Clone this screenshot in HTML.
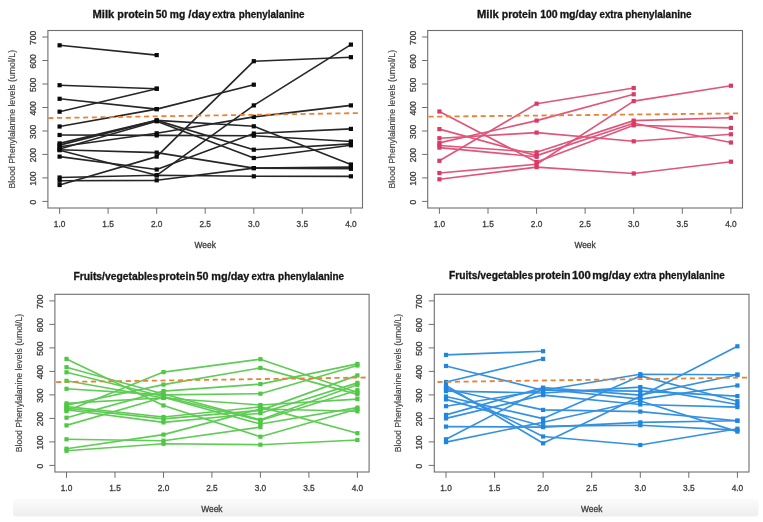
<!DOCTYPE html><html><head><meta charset="utf-8"><style>html,body{margin:0;padding:0;background:#fff;}svg{display:block;filter:blur(0.3px);}text{font-family:"Liberation Sans",sans-serif;} .lb{stroke:#3c3c3c;stroke-width:0.3px;}</style></head><body>
<svg width="763" height="522" viewBox="0 0 763 522">
<defs><linearGradient id="bg" x1="0" y1="0" x2="0" y2="1"><stop offset="0" stop-color="#fbfbfb"/><stop offset="1" stop-color="#eeeeee"/></linearGradient></defs>
<rect x="0" y="0" width="763" height="522" fill="#fff"/>
<rect x="13" y="498.8" width="745.5" height="17.6" rx="3" fill="url(#bg)"/>
<rect x="47.9" y="30.5" width="314.6" height="177.5" fill="none" stroke="#6e6e6e" stroke-width="1.1"/>
<line x1="42.3" y1="201.4" x2="47.9" y2="201.4" stroke="#6e6e6e" stroke-width="1"/>
<text x="0" y="0" transform="translate(35.8,202.2) rotate(-90)" text-anchor="middle" font-size="8.5" fill="#3c3c3c" class="lb">0</text>
<line x1="42.3" y1="177.9" x2="47.9" y2="177.9" stroke="#6e6e6e" stroke-width="1"/>
<text x="0" y="0" transform="translate(35.8,178.7) rotate(-90)" text-anchor="middle" font-size="8.5" fill="#3c3c3c" class="lb">100</text>
<line x1="42.3" y1="154.4" x2="47.9" y2="154.4" stroke="#6e6e6e" stroke-width="1"/>
<text x="0" y="0" transform="translate(35.8,155.2) rotate(-90)" text-anchor="middle" font-size="8.5" fill="#3c3c3c" class="lb">200</text>
<line x1="42.3" y1="131.0" x2="47.9" y2="131.0" stroke="#6e6e6e" stroke-width="1"/>
<text x="0" y="0" transform="translate(35.8,131.8) rotate(-90)" text-anchor="middle" font-size="8.5" fill="#3c3c3c" class="lb">300</text>
<line x1="42.3" y1="107.5" x2="47.9" y2="107.5" stroke="#6e6e6e" stroke-width="1"/>
<text x="0" y="0" transform="translate(35.8,108.3) rotate(-90)" text-anchor="middle" font-size="8.5" fill="#3c3c3c" class="lb">400</text>
<line x1="42.3" y1="84.0" x2="47.9" y2="84.0" stroke="#6e6e6e" stroke-width="1"/>
<text x="0" y="0" transform="translate(35.8,84.8) rotate(-90)" text-anchor="middle" font-size="8.5" fill="#3c3c3c" class="lb">500</text>
<line x1="42.3" y1="60.5" x2="47.9" y2="60.5" stroke="#6e6e6e" stroke-width="1"/>
<text x="0" y="0" transform="translate(35.8,61.3) rotate(-90)" text-anchor="middle" font-size="8.5" fill="#3c3c3c" class="lb">600</text>
<line x1="42.3" y1="37.0" x2="47.9" y2="37.0" stroke="#6e6e6e" stroke-width="1"/>
<text x="0" y="0" transform="translate(35.8,37.8) rotate(-90)" text-anchor="middle" font-size="8.5" fill="#3c3c3c" class="lb">700</text>
<line x1="59.6" y1="208.0" x2="59.6" y2="213.8" stroke="#6e6e6e" stroke-width="1"/>
<text x="59.6" y="227.4" text-anchor="middle" font-size="8.3" fill="#3c3c3c" class="lb">1.0</text>
<line x1="108.1" y1="208.0" x2="108.1" y2="213.8" stroke="#6e6e6e" stroke-width="1"/>
<text x="108.1" y="227.4" text-anchor="middle" font-size="8.3" fill="#3c3c3c" class="lb">1.5</text>
<line x1="156.7" y1="208.0" x2="156.7" y2="213.8" stroke="#6e6e6e" stroke-width="1"/>
<text x="156.7" y="227.4" text-anchor="middle" font-size="8.3" fill="#3c3c3c" class="lb">2.0</text>
<line x1="205.2" y1="208.0" x2="205.2" y2="213.8" stroke="#6e6e6e" stroke-width="1"/>
<text x="205.2" y="227.4" text-anchor="middle" font-size="8.3" fill="#3c3c3c" class="lb">2.5</text>
<line x1="253.8" y1="208.0" x2="253.8" y2="213.8" stroke="#6e6e6e" stroke-width="1"/>
<text x="253.8" y="227.4" text-anchor="middle" font-size="8.3" fill="#3c3c3c" class="lb">3.0</text>
<line x1="302.3" y1="208.0" x2="302.3" y2="213.8" stroke="#6e6e6e" stroke-width="1"/>
<text x="302.3" y="227.4" text-anchor="middle" font-size="8.3" fill="#3c3c3c" class="lb">3.5</text>
<line x1="350.9" y1="208.0" x2="350.9" y2="213.8" stroke="#6e6e6e" stroke-width="1"/>
<text x="350.9" y="227.4" text-anchor="middle" font-size="8.3" fill="#3c3c3c" class="lb">4.0</text>
<text x="205.2" y="248.4" text-anchor="middle" font-size="8.4" fill="#3c3c3c" class="lb">Week</text>
<text x="0" y="0" transform="translate(14.9,119.2) rotate(-90)" text-anchor="middle" font-size="8.7" fill="#404040" stroke="#404040" stroke-width="0.15" textLength="138.5" lengthAdjust="spacingAndGlyphs">Blood Phenylalanine levels (umol/L)</text>
<text x="92.53" y="17.9" font-size="10.2" font-weight="bold" fill="#151515" stroke="#151515" stroke-width="0.3" textLength="21.73" lengthAdjust="spacingAndGlyphs">Milk</text>
<text x="117.35" y="17.9" font-size="10.2" font-weight="bold" fill="#151515" stroke="#151515" stroke-width="0.3" textLength="36.61" lengthAdjust="spacingAndGlyphs">protein</text>
<text x="155.69" y="17.9" font-size="10.2" font-weight="bold" fill="#151515" stroke="#151515" stroke-width="0.3" textLength="11.48" lengthAdjust="spacingAndGlyphs">50</text>
<text x="169.78" y="17.9" font-size="10.2" font-weight="bold" fill="#151515" stroke="#151515" stroke-width="0.3" textLength="15.44" lengthAdjust="spacingAndGlyphs">mg</text>
<text x="188.30" y="17.9" font-size="10.2" font-weight="bold" fill="#151515" stroke="#151515" stroke-width="0.3" textLength="22.46" lengthAdjust="spacingAndGlyphs">/day</text>
<text x="212.31" y="17.9" font-size="10.2" font-weight="bold" fill="#151515" stroke="#151515" stroke-width="0.3" textLength="22.85" lengthAdjust="spacingAndGlyphs">extra</text>
<text x="238.81" y="17.9" font-size="10.2" font-weight="bold" fill="#151515" stroke="#151515" stroke-width="0.3" textLength="65.75" lengthAdjust="spacingAndGlyphs">phenylalanine</text>
<polyline points="59.6,45.3 156.7,55.1" fill="none" stroke="#262626" stroke-width="1.65" stroke-linejoin="round"/>
<polyline points="59.6,85.2 156.7,88.7" fill="none" stroke="#262626" stroke-width="1.65" stroke-linejoin="round"/>
<polyline points="59.6,98.8 156.7,109.1 253.8,84.7" fill="none" stroke="#262626" stroke-width="1.65" stroke-linejoin="round"/>
<polyline points="59.6,111.7 156.7,88.7" fill="none" stroke="#262626" stroke-width="1.65" stroke-linejoin="round"/>
<polyline points="59.6,126.5 156.7,109.1" fill="none" stroke="#262626" stroke-width="1.65" stroke-linejoin="round"/>
<polyline points="59.6,135.0 156.7,135.4 253.8,135.7 350.9,141.5" fill="none" stroke="#262626" stroke-width="1.65" stroke-linejoin="round"/>
<polyline points="59.6,143.4 156.7,120.4 253.8,126.3 350.9,164.5" fill="none" stroke="#262626" stroke-width="1.65" stroke-linejoin="round"/>
<polyline points="59.6,145.1 156.7,120.4 253.8,149.7 350.9,143.9" fill="none" stroke="#262626" stroke-width="1.65" stroke-linejoin="round"/>
<polyline points="59.6,146.7 156.7,133.3 253.8,116.9 350.9,105.4" fill="none" stroke="#262626" stroke-width="1.65" stroke-linejoin="round"/>
<polyline points="59.6,149.0 156.7,121.3 253.8,158.0 350.9,145.3" fill="none" stroke="#262626" stroke-width="1.65" stroke-linejoin="round"/>
<polyline points="59.6,149.7 156.7,152.6 253.8,168.1 350.9,167.1" fill="none" stroke="#262626" stroke-width="1.65" stroke-linejoin="round"/>
<polyline points="59.6,150.2 156.7,175.3 253.8,105.4 350.9,44.6" fill="none" stroke="#262626" stroke-width="1.65" stroke-linejoin="round"/>
<polyline points="59.6,156.6 156.7,169.5 253.8,133.5 350.9,128.9" fill="none" stroke="#262626" stroke-width="1.65" stroke-linejoin="round"/>
<polyline points="59.6,177.5 156.7,175.3 253.8,176.3 350.9,176.3" fill="none" stroke="#262626" stroke-width="1.65" stroke-linejoin="round"/>
<polyline points="59.6,180.7 156.7,180.3 253.8,168.1 350.9,168.8" fill="none" stroke="#262626" stroke-width="1.65" stroke-linejoin="round"/>
<polyline points="59.6,185.0 156.7,156.6 253.8,61.2 350.9,57.2" fill="none" stroke="#262626" stroke-width="1.65" stroke-linejoin="round"/>
<rect x="57.5" y="43.2" width="4.2" height="4.2" fill="#0a0a0a"/>
<rect x="154.6" y="53.0" width="4.2" height="4.2" fill="#0a0a0a"/>
<rect x="57.5" y="83.1" width="4.2" height="4.2" fill="#0a0a0a"/>
<rect x="154.6" y="86.6" width="4.2" height="4.2" fill="#0a0a0a"/>
<rect x="57.5" y="96.7" width="4.2" height="4.2" fill="#0a0a0a"/>
<rect x="154.6" y="107.0" width="4.2" height="4.2" fill="#0a0a0a"/>
<rect x="251.7" y="82.6" width="4.2" height="4.2" fill="#0a0a0a"/>
<rect x="57.5" y="109.6" width="4.2" height="4.2" fill="#0a0a0a"/>
<rect x="154.6" y="86.6" width="4.2" height="4.2" fill="#0a0a0a"/>
<rect x="57.5" y="124.4" width="4.2" height="4.2" fill="#0a0a0a"/>
<rect x="154.6" y="107.0" width="4.2" height="4.2" fill="#0a0a0a"/>
<rect x="57.5" y="132.9" width="4.2" height="4.2" fill="#0a0a0a"/>
<rect x="154.6" y="133.3" width="4.2" height="4.2" fill="#0a0a0a"/>
<rect x="251.7" y="133.6" width="4.2" height="4.2" fill="#0a0a0a"/>
<rect x="348.8" y="139.4" width="4.2" height="4.2" fill="#0a0a0a"/>
<rect x="57.5" y="141.3" width="4.2" height="4.2" fill="#0a0a0a"/>
<rect x="154.6" y="118.3" width="4.2" height="4.2" fill="#0a0a0a"/>
<rect x="251.7" y="124.2" width="4.2" height="4.2" fill="#0a0a0a"/>
<rect x="348.8" y="162.4" width="4.2" height="4.2" fill="#0a0a0a"/>
<rect x="57.5" y="143.0" width="4.2" height="4.2" fill="#0a0a0a"/>
<rect x="154.6" y="118.3" width="4.2" height="4.2" fill="#0a0a0a"/>
<rect x="251.7" y="147.6" width="4.2" height="4.2" fill="#0a0a0a"/>
<rect x="348.8" y="141.8" width="4.2" height="4.2" fill="#0a0a0a"/>
<rect x="57.5" y="144.6" width="4.2" height="4.2" fill="#0a0a0a"/>
<rect x="154.6" y="131.2" width="4.2" height="4.2" fill="#0a0a0a"/>
<rect x="251.7" y="114.8" width="4.2" height="4.2" fill="#0a0a0a"/>
<rect x="348.8" y="103.3" width="4.2" height="4.2" fill="#0a0a0a"/>
<rect x="57.5" y="146.9" width="4.2" height="4.2" fill="#0a0a0a"/>
<rect x="154.6" y="119.2" width="4.2" height="4.2" fill="#0a0a0a"/>
<rect x="251.7" y="155.9" width="4.2" height="4.2" fill="#0a0a0a"/>
<rect x="348.8" y="143.2" width="4.2" height="4.2" fill="#0a0a0a"/>
<rect x="57.5" y="147.6" width="4.2" height="4.2" fill="#0a0a0a"/>
<rect x="154.6" y="150.5" width="4.2" height="4.2" fill="#0a0a0a"/>
<rect x="251.7" y="166.0" width="4.2" height="4.2" fill="#0a0a0a"/>
<rect x="348.8" y="165.0" width="4.2" height="4.2" fill="#0a0a0a"/>
<rect x="57.5" y="148.1" width="4.2" height="4.2" fill="#0a0a0a"/>
<rect x="154.6" y="173.2" width="4.2" height="4.2" fill="#0a0a0a"/>
<rect x="251.7" y="103.3" width="4.2" height="4.2" fill="#0a0a0a"/>
<rect x="348.8" y="42.5" width="4.2" height="4.2" fill="#0a0a0a"/>
<rect x="57.5" y="154.5" width="4.2" height="4.2" fill="#0a0a0a"/>
<rect x="154.6" y="167.4" width="4.2" height="4.2" fill="#0a0a0a"/>
<rect x="251.7" y="131.4" width="4.2" height="4.2" fill="#0a0a0a"/>
<rect x="348.8" y="126.8" width="4.2" height="4.2" fill="#0a0a0a"/>
<rect x="57.5" y="175.4" width="4.2" height="4.2" fill="#0a0a0a"/>
<rect x="154.6" y="173.2" width="4.2" height="4.2" fill="#0a0a0a"/>
<rect x="251.7" y="174.2" width="4.2" height="4.2" fill="#0a0a0a"/>
<rect x="348.8" y="174.2" width="4.2" height="4.2" fill="#0a0a0a"/>
<rect x="57.5" y="178.6" width="4.2" height="4.2" fill="#0a0a0a"/>
<rect x="154.6" y="178.2" width="4.2" height="4.2" fill="#0a0a0a"/>
<rect x="251.7" y="166.0" width="4.2" height="4.2" fill="#0a0a0a"/>
<rect x="348.8" y="166.7" width="4.2" height="4.2" fill="#0a0a0a"/>
<rect x="57.5" y="182.9" width="4.2" height="4.2" fill="#0a0a0a"/>
<rect x="154.6" y="154.5" width="4.2" height="4.2" fill="#0a0a0a"/>
<rect x="251.7" y="59.1" width="4.2" height="4.2" fill="#0a0a0a"/>
<rect x="348.8" y="55.1" width="4.2" height="4.2" fill="#0a0a0a"/>
<line x1="48.3" y1="118.1" x2="357.9" y2="113.1" stroke="#e8823a" stroke-width="1.8" stroke-dasharray="5.1,3.6"/>
<rect x="427.7" y="30.5" width="314.8" height="177.5" fill="none" stroke="#6e6e6e" stroke-width="1.1"/>
<line x1="422.1" y1="201.4" x2="427.7" y2="201.4" stroke="#6e6e6e" stroke-width="1"/>
<text x="0" y="0" transform="translate(415.6,202.2) rotate(-90)" text-anchor="middle" font-size="8.5" fill="#3c3c3c" class="lb">0</text>
<line x1="422.1" y1="177.9" x2="427.7" y2="177.9" stroke="#6e6e6e" stroke-width="1"/>
<text x="0" y="0" transform="translate(415.6,178.7) rotate(-90)" text-anchor="middle" font-size="8.5" fill="#3c3c3c" class="lb">100</text>
<line x1="422.1" y1="154.4" x2="427.7" y2="154.4" stroke="#6e6e6e" stroke-width="1"/>
<text x="0" y="0" transform="translate(415.6,155.2) rotate(-90)" text-anchor="middle" font-size="8.5" fill="#3c3c3c" class="lb">200</text>
<line x1="422.1" y1="131.0" x2="427.7" y2="131.0" stroke="#6e6e6e" stroke-width="1"/>
<text x="0" y="0" transform="translate(415.6,131.8) rotate(-90)" text-anchor="middle" font-size="8.5" fill="#3c3c3c" class="lb">300</text>
<line x1="422.1" y1="107.5" x2="427.7" y2="107.5" stroke="#6e6e6e" stroke-width="1"/>
<text x="0" y="0" transform="translate(415.6,108.3) rotate(-90)" text-anchor="middle" font-size="8.5" fill="#3c3c3c" class="lb">400</text>
<line x1="422.1" y1="84.0" x2="427.7" y2="84.0" stroke="#6e6e6e" stroke-width="1"/>
<text x="0" y="0" transform="translate(415.6,84.8) rotate(-90)" text-anchor="middle" font-size="8.5" fill="#3c3c3c" class="lb">500</text>
<line x1="422.1" y1="60.5" x2="427.7" y2="60.5" stroke="#6e6e6e" stroke-width="1"/>
<text x="0" y="0" transform="translate(415.6,61.3) rotate(-90)" text-anchor="middle" font-size="8.5" fill="#3c3c3c" class="lb">600</text>
<line x1="422.1" y1="37.0" x2="427.7" y2="37.0" stroke="#6e6e6e" stroke-width="1"/>
<text x="0" y="0" transform="translate(415.6,37.8) rotate(-90)" text-anchor="middle" font-size="8.5" fill="#3c3c3c" class="lb">700</text>
<line x1="439.4" y1="208.0" x2="439.4" y2="213.8" stroke="#6e6e6e" stroke-width="1"/>
<text x="439.4" y="227.4" text-anchor="middle" font-size="8.3" fill="#3c3c3c" class="lb">1.0</text>
<line x1="488.0" y1="208.0" x2="488.0" y2="213.8" stroke="#6e6e6e" stroke-width="1"/>
<text x="488.0" y="227.4" text-anchor="middle" font-size="8.3" fill="#3c3c3c" class="lb">1.5</text>
<line x1="536.6" y1="208.0" x2="536.6" y2="213.8" stroke="#6e6e6e" stroke-width="1"/>
<text x="536.6" y="227.4" text-anchor="middle" font-size="8.3" fill="#3c3c3c" class="lb">2.0</text>
<line x1="585.1" y1="208.0" x2="585.1" y2="213.8" stroke="#6e6e6e" stroke-width="1"/>
<text x="585.1" y="227.4" text-anchor="middle" font-size="8.3" fill="#3c3c3c" class="lb">2.5</text>
<line x1="633.7" y1="208.0" x2="633.7" y2="213.8" stroke="#6e6e6e" stroke-width="1"/>
<text x="633.7" y="227.4" text-anchor="middle" font-size="8.3" fill="#3c3c3c" class="lb">3.0</text>
<line x1="682.3" y1="208.0" x2="682.3" y2="213.8" stroke="#6e6e6e" stroke-width="1"/>
<text x="682.3" y="227.4" text-anchor="middle" font-size="8.3" fill="#3c3c3c" class="lb">3.5</text>
<line x1="730.9" y1="208.0" x2="730.9" y2="213.8" stroke="#6e6e6e" stroke-width="1"/>
<text x="730.9" y="227.4" text-anchor="middle" font-size="8.3" fill="#3c3c3c" class="lb">4.0</text>
<text x="585.1" y="248.4" text-anchor="middle" font-size="8.4" fill="#3c3c3c" class="lb">Week</text>
<text x="0" y="0" transform="translate(394.7,119.2) rotate(-90)" text-anchor="middle" font-size="8.7" fill="#404040" stroke="#404040" stroke-width="0.15" textLength="138.5" lengthAdjust="spacingAndGlyphs">Blood Phenylalanine levels (umol/L)</text>
<text x="477.03" y="18.2" font-size="10.2" font-weight="bold" fill="#151515" stroke="#151515" stroke-width="0.3" textLength="21.83" lengthAdjust="spacingAndGlyphs">Milk</text>
<text x="501.77" y="18.2" font-size="10.2" font-weight="bold" fill="#151515" stroke="#151515" stroke-width="0.3" textLength="35.46" lengthAdjust="spacingAndGlyphs">protein</text>
<text x="540.17" y="18.2" font-size="10.2" font-weight="bold" fill="#151515" stroke="#151515" stroke-width="0.3" textLength="17.51" lengthAdjust="spacingAndGlyphs">100</text>
<text x="559.66" y="18.2" font-size="10.2" font-weight="bold" fill="#151515" stroke="#151515" stroke-width="0.3" textLength="37.20" lengthAdjust="spacingAndGlyphs">mg/day</text>
<text x="599.51" y="18.2" font-size="10.2" font-weight="bold" fill="#151515" stroke="#151515" stroke-width="0.3" textLength="23.16" lengthAdjust="spacingAndGlyphs">extra</text>
<text x="625.20" y="18.2" font-size="10.2" font-weight="bold" fill="#151515" stroke="#151515" stroke-width="0.3" textLength="66.46" lengthAdjust="spacingAndGlyphs">phenylalanine</text>
<polyline points="439.4,111.5 536.6,162.0 633.7,125.3 730.9,127.9" fill="none" stroke="#e0557a" stroke-width="1.65" stroke-linejoin="round"/>
<polyline points="439.4,129.1 536.6,155.6 633.7,123.2 730.9,142.5" fill="none" stroke="#e0557a" stroke-width="1.65" stroke-linejoin="round"/>
<polyline points="439.4,138.2 536.6,132.6 633.7,141.3 730.9,134.3" fill="none" stroke="#e0557a" stroke-width="1.65" stroke-linejoin="round"/>
<polyline points="439.4,142.9 536.6,120.6 633.7,94.3" fill="none" stroke="#e0557a" stroke-width="1.65" stroke-linejoin="round"/>
<polyline points="439.4,145.5 536.6,152.3 633.7,120.6 730.9,117.8" fill="none" stroke="#e0557a" stroke-width="1.65" stroke-linejoin="round"/>
<polyline points="439.4,147.6 536.6,156.8" fill="none" stroke="#e0557a" stroke-width="1.65" stroke-linejoin="round"/>
<polyline points="439.4,160.8 536.6,103.7 633.7,88.0" fill="none" stroke="#e0557a" stroke-width="1.65" stroke-linejoin="round"/>
<polyline points="439.4,173.0 536.6,164.3 633.7,101.1 730.9,85.7" fill="none" stroke="#e0557a" stroke-width="1.65" stroke-linejoin="round"/>
<polyline points="439.4,179.3 536.6,167.1 633.7,173.5 730.9,161.7" fill="none" stroke="#e0557a" stroke-width="1.65" stroke-linejoin="round"/>
<rect x="437.3" y="109.4" width="4.2" height="4.2" fill="#dc3a66"/>
<rect x="534.5" y="159.9" width="4.2" height="4.2" fill="#dc3a66"/>
<rect x="631.6" y="123.2" width="4.2" height="4.2" fill="#dc3a66"/>
<rect x="728.8" y="125.8" width="4.2" height="4.2" fill="#dc3a66"/>
<rect x="437.3" y="127.0" width="4.2" height="4.2" fill="#dc3a66"/>
<rect x="534.5" y="153.5" width="4.2" height="4.2" fill="#dc3a66"/>
<rect x="631.6" y="121.1" width="4.2" height="4.2" fill="#dc3a66"/>
<rect x="728.8" y="140.4" width="4.2" height="4.2" fill="#dc3a66"/>
<rect x="437.3" y="136.1" width="4.2" height="4.2" fill="#dc3a66"/>
<rect x="534.5" y="130.5" width="4.2" height="4.2" fill="#dc3a66"/>
<rect x="631.6" y="139.2" width="4.2" height="4.2" fill="#dc3a66"/>
<rect x="728.8" y="132.2" width="4.2" height="4.2" fill="#dc3a66"/>
<rect x="437.3" y="140.8" width="4.2" height="4.2" fill="#dc3a66"/>
<rect x="534.5" y="118.5" width="4.2" height="4.2" fill="#dc3a66"/>
<rect x="631.6" y="92.2" width="4.2" height="4.2" fill="#dc3a66"/>
<rect x="437.3" y="143.4" width="4.2" height="4.2" fill="#dc3a66"/>
<rect x="534.5" y="150.2" width="4.2" height="4.2" fill="#dc3a66"/>
<rect x="631.6" y="118.5" width="4.2" height="4.2" fill="#dc3a66"/>
<rect x="728.8" y="115.7" width="4.2" height="4.2" fill="#dc3a66"/>
<rect x="437.3" y="145.5" width="4.2" height="4.2" fill="#dc3a66"/>
<rect x="534.5" y="154.7" width="4.2" height="4.2" fill="#dc3a66"/>
<rect x="437.3" y="158.7" width="4.2" height="4.2" fill="#dc3a66"/>
<rect x="534.5" y="101.6" width="4.2" height="4.2" fill="#dc3a66"/>
<rect x="631.6" y="85.9" width="4.2" height="4.2" fill="#dc3a66"/>
<rect x="437.3" y="170.9" width="4.2" height="4.2" fill="#dc3a66"/>
<rect x="534.5" y="162.2" width="4.2" height="4.2" fill="#dc3a66"/>
<rect x="631.6" y="99.0" width="4.2" height="4.2" fill="#dc3a66"/>
<rect x="728.8" y="83.6" width="4.2" height="4.2" fill="#dc3a66"/>
<rect x="437.3" y="177.2" width="4.2" height="4.2" fill="#dc3a66"/>
<rect x="534.5" y="165.0" width="4.2" height="4.2" fill="#dc3a66"/>
<rect x="631.6" y="171.4" width="4.2" height="4.2" fill="#dc3a66"/>
<rect x="728.8" y="159.6" width="4.2" height="4.2" fill="#dc3a66"/>
<line x1="428.5" y1="116.7" x2="738.1" y2="113.4" stroke="#e8823a" stroke-width="1.8" stroke-dasharray="5.1,3.6"/>
<rect x="54.9" y="294.3" width="314.2" height="177.7" fill="none" stroke="#6e6e6e" stroke-width="1.1"/>
<line x1="49.3" y1="465.4" x2="54.9" y2="465.4" stroke="#6e6e6e" stroke-width="1"/>
<text x="0" y="0" transform="translate(42.8,466.2) rotate(-90)" text-anchor="middle" font-size="8.5" fill="#3c3c3c" class="lb">0</text>
<line x1="49.3" y1="441.9" x2="54.9" y2="441.9" stroke="#6e6e6e" stroke-width="1"/>
<text x="0" y="0" transform="translate(42.8,442.7) rotate(-90)" text-anchor="middle" font-size="8.5" fill="#3c3c3c" class="lb">100</text>
<line x1="49.3" y1="418.4" x2="54.9" y2="418.4" stroke="#6e6e6e" stroke-width="1"/>
<text x="0" y="0" transform="translate(42.8,419.2) rotate(-90)" text-anchor="middle" font-size="8.5" fill="#3c3c3c" class="lb">200</text>
<line x1="49.3" y1="394.9" x2="54.9" y2="394.9" stroke="#6e6e6e" stroke-width="1"/>
<text x="0" y="0" transform="translate(42.8,395.7) rotate(-90)" text-anchor="middle" font-size="8.5" fill="#3c3c3c" class="lb">300</text>
<line x1="49.3" y1="371.4" x2="54.9" y2="371.4" stroke="#6e6e6e" stroke-width="1"/>
<text x="0" y="0" transform="translate(42.8,372.2) rotate(-90)" text-anchor="middle" font-size="8.5" fill="#3c3c3c" class="lb">400</text>
<line x1="49.3" y1="347.9" x2="54.9" y2="347.9" stroke="#6e6e6e" stroke-width="1"/>
<text x="0" y="0" transform="translate(42.8,348.7) rotate(-90)" text-anchor="middle" font-size="8.5" fill="#3c3c3c" class="lb">500</text>
<line x1="49.3" y1="324.4" x2="54.9" y2="324.4" stroke="#6e6e6e" stroke-width="1"/>
<text x="0" y="0" transform="translate(42.8,325.2) rotate(-90)" text-anchor="middle" font-size="8.5" fill="#3c3c3c" class="lb">600</text>
<line x1="49.3" y1="300.9" x2="54.9" y2="300.9" stroke="#6e6e6e" stroke-width="1"/>
<text x="0" y="0" transform="translate(42.8,301.7) rotate(-90)" text-anchor="middle" font-size="8.5" fill="#3c3c3c" class="lb">700</text>
<line x1="66.5" y1="472.0" x2="66.5" y2="477.8" stroke="#6e6e6e" stroke-width="1"/>
<text x="66.5" y="491.4" text-anchor="middle" font-size="8.3" fill="#3c3c3c" class="lb">1.0</text>
<line x1="115.0" y1="472.0" x2="115.0" y2="477.8" stroke="#6e6e6e" stroke-width="1"/>
<text x="115.0" y="491.4" text-anchor="middle" font-size="8.3" fill="#3c3c3c" class="lb">1.5</text>
<line x1="163.5" y1="472.0" x2="163.5" y2="477.8" stroke="#6e6e6e" stroke-width="1"/>
<text x="163.5" y="491.4" text-anchor="middle" font-size="8.3" fill="#3c3c3c" class="lb">2.0</text>
<line x1="211.9" y1="472.0" x2="211.9" y2="477.8" stroke="#6e6e6e" stroke-width="1"/>
<text x="211.9" y="491.4" text-anchor="middle" font-size="8.3" fill="#3c3c3c" class="lb">2.5</text>
<line x1="260.4" y1="472.0" x2="260.4" y2="477.8" stroke="#6e6e6e" stroke-width="1"/>
<text x="260.4" y="491.4" text-anchor="middle" font-size="8.3" fill="#3c3c3c" class="lb">3.0</text>
<line x1="308.9" y1="472.0" x2="308.9" y2="477.8" stroke="#6e6e6e" stroke-width="1"/>
<text x="308.9" y="491.4" text-anchor="middle" font-size="8.3" fill="#3c3c3c" class="lb">3.5</text>
<line x1="357.4" y1="472.0" x2="357.4" y2="477.8" stroke="#6e6e6e" stroke-width="1"/>
<text x="357.4" y="491.4" text-anchor="middle" font-size="8.3" fill="#3c3c3c" class="lb">4.0</text>
<text x="211.9" y="512.4" text-anchor="middle" font-size="8.4" fill="#3c3c3c" class="lb">Week</text>
<text x="0" y="0" transform="translate(21.9,383.1) rotate(-90)" text-anchor="middle" font-size="8.7" fill="#404040" stroke="#404040" stroke-width="0.15" textLength="138.5" lengthAdjust="spacingAndGlyphs">Blood Phenylalanine levels (umol/L)</text>
<text x="73.48" y="280.0" font-size="10.2" font-weight="bold" fill="#151515" stroke="#151515" stroke-width="0.3" textLength="84.79" lengthAdjust="spacingAndGlyphs">Fruits/vegetables</text>
<text x="158.96" y="280.0" font-size="10.2" font-weight="bold" fill="#151515" stroke="#151515" stroke-width="0.3" textLength="35.98" lengthAdjust="spacingAndGlyphs">protein</text>
<text x="196.58" y="280.0" font-size="10.2" font-weight="bold" fill="#151515" stroke="#151515" stroke-width="0.3" textLength="11.91" lengthAdjust="spacingAndGlyphs">50</text>
<text x="211.35" y="280.0" font-size="10.2" font-weight="bold" fill="#151515" stroke="#151515" stroke-width="0.3" textLength="38.01" lengthAdjust="spacingAndGlyphs">mg/day</text>
<text x="251.61" y="280.0" font-size="10.2" font-weight="bold" fill="#151515" stroke="#151515" stroke-width="0.3" textLength="22.85" lengthAdjust="spacingAndGlyphs">extra</text>
<text x="278.11" y="280.0" font-size="10.2" font-weight="bold" fill="#151515" stroke="#151515" stroke-width="0.3" textLength="65.95" lengthAdjust="spacingAndGlyphs">phenylalanine</text>
<polyline points="66.5,358.9 163.5,405.5 260.4,436.7 357.4,409.0" fill="none" stroke="#5fcc55" stroke-width="1.65" stroke-linejoin="round"/>
<polyline points="66.5,367.2 163.5,394.0 260.4,419.8 357.4,384.8" fill="none" stroke="#5fcc55" stroke-width="1.65" stroke-linejoin="round"/>
<polyline points="66.5,372.3 163.5,396.5 260.4,420.5 357.4,390.2" fill="none" stroke="#5fcc55" stroke-width="1.65" stroke-linejoin="round"/>
<polyline points="66.5,380.8 163.5,398.0 260.4,405.0 357.4,399.1" fill="none" stroke="#5fcc55" stroke-width="1.65" stroke-linejoin="round"/>
<polyline points="66.5,388.8 163.5,394.9 260.4,393.7 357.4,365.5" fill="none" stroke="#5fcc55" stroke-width="1.65" stroke-linejoin="round"/>
<polyline points="66.5,411.1 163.5,372.1 260.4,359.2 357.4,392.5" fill="none" stroke="#5fcc55" stroke-width="1.65" stroke-linejoin="round"/>
<polyline points="66.5,405.2 163.5,384.6 260.4,367.9 357.4,394.4" fill="none" stroke="#5fcc55" stroke-width="1.65" stroke-linejoin="round"/>
<polyline points="66.5,406.6 163.5,417.0 260.4,406.9 357.4,433.2" fill="none" stroke="#5fcc55" stroke-width="1.65" stroke-linejoin="round"/>
<polyline points="66.5,408.3 163.5,418.9 260.4,410.4 357.4,375.4" fill="none" stroke="#5fcc55" stroke-width="1.65" stroke-linejoin="round"/>
<polyline points="66.5,409.7 163.5,422.4 260.4,413.2 357.4,382.9" fill="none" stroke="#5fcc55" stroke-width="1.65" stroke-linejoin="round"/>
<polyline points="66.5,417.7 163.5,391.1 260.4,384.1 357.4,363.9" fill="none" stroke="#5fcc55" stroke-width="1.65" stroke-linejoin="round"/>
<polyline points="66.5,425.4 163.5,397.2 260.4,424.0 357.4,407.6" fill="none" stroke="#5fcc55" stroke-width="1.65" stroke-linejoin="round"/>
<polyline points="66.5,439.3 163.5,440.7 260.4,427.1" fill="none" stroke="#5fcc55" stroke-width="1.65" stroke-linejoin="round"/>
<polyline points="66.5,448.7 163.5,434.6 260.4,409.0 357.4,411.3" fill="none" stroke="#5fcc55" stroke-width="1.65" stroke-linejoin="round"/>
<polyline points="66.5,450.8 163.5,443.8 260.4,444.7 357.4,440.0" fill="none" stroke="#5fcc55" stroke-width="1.65" stroke-linejoin="round"/>
<polyline points="66.5,403.4 163.5,397.7" fill="none" stroke="#5fcc55" stroke-width="1.65" stroke-linejoin="round"/>
<rect x="64.4" y="356.8" width="4.2" height="4.2" fill="#4ec843"/>
<rect x="161.4" y="403.4" width="4.2" height="4.2" fill="#4ec843"/>
<rect x="258.3" y="434.6" width="4.2" height="4.2" fill="#4ec843"/>
<rect x="355.3" y="406.9" width="4.2" height="4.2" fill="#4ec843"/>
<rect x="64.4" y="365.1" width="4.2" height="4.2" fill="#4ec843"/>
<rect x="161.4" y="391.9" width="4.2" height="4.2" fill="#4ec843"/>
<rect x="258.3" y="417.7" width="4.2" height="4.2" fill="#4ec843"/>
<rect x="355.3" y="382.7" width="4.2" height="4.2" fill="#4ec843"/>
<rect x="64.4" y="370.2" width="4.2" height="4.2" fill="#4ec843"/>
<rect x="161.4" y="394.4" width="4.2" height="4.2" fill="#4ec843"/>
<rect x="258.3" y="418.4" width="4.2" height="4.2" fill="#4ec843"/>
<rect x="355.3" y="388.1" width="4.2" height="4.2" fill="#4ec843"/>
<rect x="64.4" y="378.7" width="4.2" height="4.2" fill="#4ec843"/>
<rect x="161.4" y="395.9" width="4.2" height="4.2" fill="#4ec843"/>
<rect x="258.3" y="402.9" width="4.2" height="4.2" fill="#4ec843"/>
<rect x="355.3" y="397.0" width="4.2" height="4.2" fill="#4ec843"/>
<rect x="64.4" y="386.7" width="4.2" height="4.2" fill="#4ec843"/>
<rect x="161.4" y="392.8" width="4.2" height="4.2" fill="#4ec843"/>
<rect x="258.3" y="391.6" width="4.2" height="4.2" fill="#4ec843"/>
<rect x="355.3" y="363.4" width="4.2" height="4.2" fill="#4ec843"/>
<rect x="64.4" y="409.0" width="4.2" height="4.2" fill="#4ec843"/>
<rect x="161.4" y="370.0" width="4.2" height="4.2" fill="#4ec843"/>
<rect x="258.3" y="357.1" width="4.2" height="4.2" fill="#4ec843"/>
<rect x="355.3" y="390.4" width="4.2" height="4.2" fill="#4ec843"/>
<rect x="64.4" y="403.1" width="4.2" height="4.2" fill="#4ec843"/>
<rect x="161.4" y="382.5" width="4.2" height="4.2" fill="#4ec843"/>
<rect x="258.3" y="365.8" width="4.2" height="4.2" fill="#4ec843"/>
<rect x="355.3" y="392.3" width="4.2" height="4.2" fill="#4ec843"/>
<rect x="64.4" y="404.5" width="4.2" height="4.2" fill="#4ec843"/>
<rect x="161.4" y="414.9" width="4.2" height="4.2" fill="#4ec843"/>
<rect x="258.3" y="404.8" width="4.2" height="4.2" fill="#4ec843"/>
<rect x="355.3" y="431.1" width="4.2" height="4.2" fill="#4ec843"/>
<rect x="64.4" y="406.2" width="4.2" height="4.2" fill="#4ec843"/>
<rect x="161.4" y="416.8" width="4.2" height="4.2" fill="#4ec843"/>
<rect x="258.3" y="408.3" width="4.2" height="4.2" fill="#4ec843"/>
<rect x="355.3" y="373.3" width="4.2" height="4.2" fill="#4ec843"/>
<rect x="64.4" y="407.6" width="4.2" height="4.2" fill="#4ec843"/>
<rect x="161.4" y="420.3" width="4.2" height="4.2" fill="#4ec843"/>
<rect x="258.3" y="411.1" width="4.2" height="4.2" fill="#4ec843"/>
<rect x="355.3" y="380.8" width="4.2" height="4.2" fill="#4ec843"/>
<rect x="64.4" y="415.6" width="4.2" height="4.2" fill="#4ec843"/>
<rect x="161.4" y="389.0" width="4.2" height="4.2" fill="#4ec843"/>
<rect x="258.3" y="382.0" width="4.2" height="4.2" fill="#4ec843"/>
<rect x="355.3" y="361.8" width="4.2" height="4.2" fill="#4ec843"/>
<rect x="64.4" y="423.3" width="4.2" height="4.2" fill="#4ec843"/>
<rect x="161.4" y="395.1" width="4.2" height="4.2" fill="#4ec843"/>
<rect x="258.3" y="421.9" width="4.2" height="4.2" fill="#4ec843"/>
<rect x="355.3" y="405.5" width="4.2" height="4.2" fill="#4ec843"/>
<rect x="64.4" y="437.2" width="4.2" height="4.2" fill="#4ec843"/>
<rect x="161.4" y="438.6" width="4.2" height="4.2" fill="#4ec843"/>
<rect x="258.3" y="425.0" width="4.2" height="4.2" fill="#4ec843"/>
<rect x="64.4" y="446.6" width="4.2" height="4.2" fill="#4ec843"/>
<rect x="161.4" y="432.5" width="4.2" height="4.2" fill="#4ec843"/>
<rect x="258.3" y="406.9" width="4.2" height="4.2" fill="#4ec843"/>
<rect x="355.3" y="409.2" width="4.2" height="4.2" fill="#4ec843"/>
<rect x="64.4" y="448.7" width="4.2" height="4.2" fill="#4ec843"/>
<rect x="161.4" y="441.7" width="4.2" height="4.2" fill="#4ec843"/>
<rect x="258.3" y="442.6" width="4.2" height="4.2" fill="#4ec843"/>
<rect x="355.3" y="437.9" width="4.2" height="4.2" fill="#4ec843"/>
<rect x="64.4" y="401.3" width="4.2" height="4.2" fill="#4ec843"/>
<rect x="161.4" y="395.6" width="4.2" height="4.2" fill="#4ec843"/>
<line x1="56.1" y1="382.1" x2="365.7" y2="377.5" stroke="#e8823a" stroke-width="1.8" stroke-dasharray="5.1,3.6"/>
<rect x="434.3" y="294.3" width="314.7" height="177.7" fill="none" stroke="#6e6e6e" stroke-width="1.1"/>
<line x1="428.7" y1="465.4" x2="434.3" y2="465.4" stroke="#6e6e6e" stroke-width="1"/>
<text x="0" y="0" transform="translate(422.2,466.2) rotate(-90)" text-anchor="middle" font-size="8.5" fill="#3c3c3c" class="lb">0</text>
<line x1="428.7" y1="441.9" x2="434.3" y2="441.9" stroke="#6e6e6e" stroke-width="1"/>
<text x="0" y="0" transform="translate(422.2,442.7) rotate(-90)" text-anchor="middle" font-size="8.5" fill="#3c3c3c" class="lb">100</text>
<line x1="428.7" y1="418.4" x2="434.3" y2="418.4" stroke="#6e6e6e" stroke-width="1"/>
<text x="0" y="0" transform="translate(422.2,419.2) rotate(-90)" text-anchor="middle" font-size="8.5" fill="#3c3c3c" class="lb">200</text>
<line x1="428.7" y1="394.9" x2="434.3" y2="394.9" stroke="#6e6e6e" stroke-width="1"/>
<text x="0" y="0" transform="translate(422.2,395.7) rotate(-90)" text-anchor="middle" font-size="8.5" fill="#3c3c3c" class="lb">300</text>
<line x1="428.7" y1="371.4" x2="434.3" y2="371.4" stroke="#6e6e6e" stroke-width="1"/>
<text x="0" y="0" transform="translate(422.2,372.2) rotate(-90)" text-anchor="middle" font-size="8.5" fill="#3c3c3c" class="lb">400</text>
<line x1="428.7" y1="347.9" x2="434.3" y2="347.9" stroke="#6e6e6e" stroke-width="1"/>
<text x="0" y="0" transform="translate(422.2,348.7) rotate(-90)" text-anchor="middle" font-size="8.5" fill="#3c3c3c" class="lb">500</text>
<line x1="428.7" y1="324.4" x2="434.3" y2="324.4" stroke="#6e6e6e" stroke-width="1"/>
<text x="0" y="0" transform="translate(422.2,325.2) rotate(-90)" text-anchor="middle" font-size="8.5" fill="#3c3c3c" class="lb">600</text>
<line x1="428.7" y1="300.9" x2="434.3" y2="300.9" stroke="#6e6e6e" stroke-width="1"/>
<text x="0" y="0" transform="translate(422.2,301.7) rotate(-90)" text-anchor="middle" font-size="8.5" fill="#3c3c3c" class="lb">700</text>
<line x1="446.0" y1="472.0" x2="446.0" y2="477.8" stroke="#6e6e6e" stroke-width="1"/>
<text x="446.0" y="491.4" text-anchor="middle" font-size="8.3" fill="#3c3c3c" class="lb">1.0</text>
<line x1="494.6" y1="472.0" x2="494.6" y2="477.8" stroke="#6e6e6e" stroke-width="1"/>
<text x="494.6" y="491.4" text-anchor="middle" font-size="8.3" fill="#3c3c3c" class="lb">1.5</text>
<line x1="543.1" y1="472.0" x2="543.1" y2="477.8" stroke="#6e6e6e" stroke-width="1"/>
<text x="543.1" y="491.4" text-anchor="middle" font-size="8.3" fill="#3c3c3c" class="lb">2.0</text>
<line x1="591.7" y1="472.0" x2="591.7" y2="477.8" stroke="#6e6e6e" stroke-width="1"/>
<text x="591.7" y="491.4" text-anchor="middle" font-size="8.3" fill="#3c3c3c" class="lb">2.5</text>
<line x1="640.3" y1="472.0" x2="640.3" y2="477.8" stroke="#6e6e6e" stroke-width="1"/>
<text x="640.3" y="491.4" text-anchor="middle" font-size="8.3" fill="#3c3c3c" class="lb">3.0</text>
<line x1="688.8" y1="472.0" x2="688.8" y2="477.8" stroke="#6e6e6e" stroke-width="1"/>
<text x="688.8" y="491.4" text-anchor="middle" font-size="8.3" fill="#3c3c3c" class="lb">3.5</text>
<line x1="737.4" y1="472.0" x2="737.4" y2="477.8" stroke="#6e6e6e" stroke-width="1"/>
<text x="737.4" y="491.4" text-anchor="middle" font-size="8.3" fill="#3c3c3c" class="lb">4.0</text>
<text x="591.7" y="512.4" text-anchor="middle" font-size="8.4" fill="#3c3c3c" class="lb">Week</text>
<text x="0" y="0" transform="translate(401.3,383.1) rotate(-90)" text-anchor="middle" font-size="8.7" fill="#404040" stroke="#404040" stroke-width="0.15" textLength="138.5" lengthAdjust="spacingAndGlyphs">Blood Phenylalanine levels (umol/L)</text>
<text x="448.99" y="279.3" font-size="10.2" font-weight="bold" fill="#151515" stroke="#151515" stroke-width="0.3" textLength="84.18" lengthAdjust="spacingAndGlyphs">Fruits/vegetables</text>
<text x="534.56" y="279.3" font-size="10.2" font-weight="bold" fill="#151515" stroke="#151515" stroke-width="0.3" textLength="36.09" lengthAdjust="spacingAndGlyphs">protein</text>
<text x="571.92" y="279.3" font-size="10.2" font-weight="bold" fill="#151515" stroke="#151515" stroke-width="0.3" textLength="18.78" lengthAdjust="spacingAndGlyphs">100</text>
<text x="592.24" y="279.3" font-size="10.2" font-weight="bold" fill="#151515" stroke="#151515" stroke-width="0.3" textLength="38.52" lengthAdjust="spacingAndGlyphs">mg/day</text>
<text x="633.42" y="279.3" font-size="10.2" font-weight="bold" fill="#151515" stroke="#151515" stroke-width="0.3" textLength="22.45" lengthAdjust="spacingAndGlyphs">extra</text>
<text x="659.01" y="279.3" font-size="10.2" font-weight="bold" fill="#151515" stroke="#151515" stroke-width="0.3" textLength="65.75" lengthAdjust="spacingAndGlyphs">phenylalanine</text>
<polyline points="446.0,354.9 543.1,351.2" fill="none" stroke="#3491e2" stroke-width="1.65" stroke-linejoin="round"/>
<polyline points="446.0,366.0 543.1,390.2 640.3,391.1 737.4,396.1" fill="none" stroke="#3491e2" stroke-width="1.65" stroke-linejoin="round"/>
<polyline points="446.0,382.0 543.1,358.9" fill="none" stroke="#3491e2" stroke-width="1.65" stroke-linejoin="round"/>
<polyline points="446.0,385.5 543.1,443.3 640.3,396.3 737.4,346.3" fill="none" stroke="#3491e2" stroke-width="1.65" stroke-linejoin="round"/>
<polyline points="446.0,387.8 543.1,436.5 640.3,445.0 737.4,428.7" fill="none" stroke="#3491e2" stroke-width="1.65" stroke-linejoin="round"/>
<polyline points="446.0,389.0 543.1,409.9 640.3,411.6 737.4,420.8" fill="none" stroke="#3491e2" stroke-width="1.65" stroke-linejoin="round"/>
<polyline points="446.0,391.1 543.1,393.0 640.3,387.1 737.4,404.5" fill="none" stroke="#3491e2" stroke-width="1.65" stroke-linejoin="round"/>
<polyline points="446.0,396.5 543.1,418.6 640.3,375.9 737.4,401.2" fill="none" stroke="#3491e2" stroke-width="1.65" stroke-linejoin="round"/>
<polyline points="446.0,399.4 543.1,426.2 640.3,425.2 737.4,430.1" fill="none" stroke="#3491e2" stroke-width="1.65" stroke-linejoin="round"/>
<polyline points="446.0,406.2 543.1,390.2 640.3,374.2 737.4,374.7" fill="none" stroke="#3491e2" stroke-width="1.65" stroke-linejoin="round"/>
<polyline points="446.0,414.9 543.1,387.6 640.3,395.1 737.4,374.7" fill="none" stroke="#3491e2" stroke-width="1.65" stroke-linejoin="round"/>
<polyline points="446.0,418.4 543.1,395.1 640.3,404.5 737.4,407.1" fill="none" stroke="#3491e2" stroke-width="1.65" stroke-linejoin="round"/>
<polyline points="446.0,426.6 543.1,427.1 640.3,422.4 737.4,420.8" fill="none" stroke="#3491e2" stroke-width="1.65" stroke-linejoin="round"/>
<polyline points="446.0,439.3 543.1,389.0 640.3,399.1 737.4,385.5" fill="none" stroke="#3491e2" stroke-width="1.65" stroke-linejoin="round"/>
<polyline points="446.0,442.1 543.1,422.2 640.3,401.0 737.4,431.6" fill="none" stroke="#3491e2" stroke-width="1.65" stroke-linejoin="round"/>
<rect x="443.9" y="352.8" width="4.2" height="4.2" fill="#1f86e0"/>
<rect x="541.0" y="349.1" width="4.2" height="4.2" fill="#1f86e0"/>
<rect x="443.9" y="363.9" width="4.2" height="4.2" fill="#1f86e0"/>
<rect x="541.0" y="388.1" width="4.2" height="4.2" fill="#1f86e0"/>
<rect x="638.2" y="389.0" width="4.2" height="4.2" fill="#1f86e0"/>
<rect x="735.3" y="394.0" width="4.2" height="4.2" fill="#1f86e0"/>
<rect x="443.9" y="379.9" width="4.2" height="4.2" fill="#1f86e0"/>
<rect x="541.0" y="356.8" width="4.2" height="4.2" fill="#1f86e0"/>
<rect x="443.9" y="383.4" width="4.2" height="4.2" fill="#1f86e0"/>
<rect x="541.0" y="441.2" width="4.2" height="4.2" fill="#1f86e0"/>
<rect x="638.2" y="394.2" width="4.2" height="4.2" fill="#1f86e0"/>
<rect x="735.3" y="344.2" width="4.2" height="4.2" fill="#1f86e0"/>
<rect x="443.9" y="385.7" width="4.2" height="4.2" fill="#1f86e0"/>
<rect x="541.0" y="434.4" width="4.2" height="4.2" fill="#1f86e0"/>
<rect x="638.2" y="442.9" width="4.2" height="4.2" fill="#1f86e0"/>
<rect x="735.3" y="426.6" width="4.2" height="4.2" fill="#1f86e0"/>
<rect x="443.9" y="386.9" width="4.2" height="4.2" fill="#1f86e0"/>
<rect x="541.0" y="407.8" width="4.2" height="4.2" fill="#1f86e0"/>
<rect x="638.2" y="409.5" width="4.2" height="4.2" fill="#1f86e0"/>
<rect x="735.3" y="418.6" width="4.2" height="4.2" fill="#1f86e0"/>
<rect x="443.9" y="389.0" width="4.2" height="4.2" fill="#1f86e0"/>
<rect x="541.0" y="390.9" width="4.2" height="4.2" fill="#1f86e0"/>
<rect x="638.2" y="385.0" width="4.2" height="4.2" fill="#1f86e0"/>
<rect x="735.3" y="402.4" width="4.2" height="4.2" fill="#1f86e0"/>
<rect x="443.9" y="394.4" width="4.2" height="4.2" fill="#1f86e0"/>
<rect x="541.0" y="416.5" width="4.2" height="4.2" fill="#1f86e0"/>
<rect x="638.2" y="373.8" width="4.2" height="4.2" fill="#1f86e0"/>
<rect x="735.3" y="399.1" width="4.2" height="4.2" fill="#1f86e0"/>
<rect x="443.9" y="397.3" width="4.2" height="4.2" fill="#1f86e0"/>
<rect x="541.0" y="424.1" width="4.2" height="4.2" fill="#1f86e0"/>
<rect x="638.2" y="423.1" width="4.2" height="4.2" fill="#1f86e0"/>
<rect x="735.3" y="428.0" width="4.2" height="4.2" fill="#1f86e0"/>
<rect x="443.9" y="404.1" width="4.2" height="4.2" fill="#1f86e0"/>
<rect x="541.0" y="388.1" width="4.2" height="4.2" fill="#1f86e0"/>
<rect x="638.2" y="372.1" width="4.2" height="4.2" fill="#1f86e0"/>
<rect x="735.3" y="372.6" width="4.2" height="4.2" fill="#1f86e0"/>
<rect x="443.9" y="412.8" width="4.2" height="4.2" fill="#1f86e0"/>
<rect x="541.0" y="385.5" width="4.2" height="4.2" fill="#1f86e0"/>
<rect x="638.2" y="393.0" width="4.2" height="4.2" fill="#1f86e0"/>
<rect x="735.3" y="372.6" width="4.2" height="4.2" fill="#1f86e0"/>
<rect x="443.9" y="416.3" width="4.2" height="4.2" fill="#1f86e0"/>
<rect x="541.0" y="393.0" width="4.2" height="4.2" fill="#1f86e0"/>
<rect x="638.2" y="402.4" width="4.2" height="4.2" fill="#1f86e0"/>
<rect x="735.3" y="405.0" width="4.2" height="4.2" fill="#1f86e0"/>
<rect x="443.9" y="424.5" width="4.2" height="4.2" fill="#1f86e0"/>
<rect x="541.0" y="425.0" width="4.2" height="4.2" fill="#1f86e0"/>
<rect x="638.2" y="420.3" width="4.2" height="4.2" fill="#1f86e0"/>
<rect x="735.3" y="418.6" width="4.2" height="4.2" fill="#1f86e0"/>
<rect x="443.9" y="437.2" width="4.2" height="4.2" fill="#1f86e0"/>
<rect x="541.0" y="386.9" width="4.2" height="4.2" fill="#1f86e0"/>
<rect x="638.2" y="397.0" width="4.2" height="4.2" fill="#1f86e0"/>
<rect x="735.3" y="383.4" width="4.2" height="4.2" fill="#1f86e0"/>
<rect x="443.9" y="440.0" width="4.2" height="4.2" fill="#1f86e0"/>
<rect x="541.0" y="420.1" width="4.2" height="4.2" fill="#1f86e0"/>
<rect x="638.2" y="398.9" width="4.2" height="4.2" fill="#1f86e0"/>
<rect x="735.3" y="429.5" width="4.2" height="4.2" fill="#1f86e0"/>
<line x1="437.5" y1="382.0" x2="747.1" y2="377.6" stroke="#e8823a" stroke-width="1.8" stroke-dasharray="5.1,3.6"/>
</svg></body></html>
